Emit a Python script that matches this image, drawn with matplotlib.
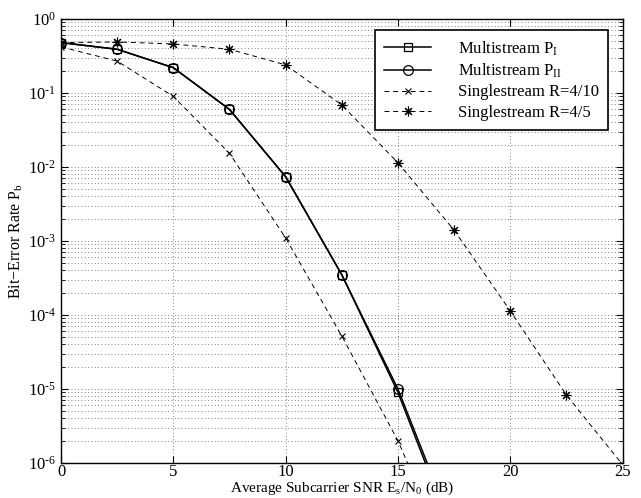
import numpy as np
import matplotlib
matplotlib.use("Agg")
import matplotlib.pyplot as plt
from matplotlib.ticker import LogLocator, NullFormatter, MultipleLocator, FuncFormatter

plt.rcParams['font.family'] = ['Liberation Serif', 'DejaVu Serif']
plt.rcParams['mathtext.fontset'] = 'custom'
plt.rcParams['mathtext.rm'] = 'Liberation Serif'
plt.rcParams['mathtext.it'] = 'Liberation Serif:italic'
plt.rcParams['mathtext.bf'] = 'Liberation Serif:bold'

# ---data--------------------------------------------------------------
snr = [0, 2.5, 5, 7.5, 10, 12.5, 15, 17.5]
multi_p1 = [0.48, 0.39, 0.22, 0.060, 0.0074, 3.5e-4, 9.0e-6, 1.0e-7]
multi_p2 = [0.48, 0.39, 0.22, 0.060, 0.0074, 3.5e-4, 1.0e-5, 1.2e-7]
single_410 = [0.42, 0.27, 0.090, 0.0153, 1.1e-3, 5.2e-5, 2.0e-6, 3.5e-8]

snr_45 = [0, 2.5, 5, 7.5, 10, 12.5, 15, 17.5, 20, 22.5, 25]
single_45 = [0.48, 0.49, 0.46, 0.39, 0.24, 0.069, 0.0114, 1.4e-3, 1.14e-4, 8.3e-6, 9.5e-7]

labels = ['Multistream P$_\\mathrm{I}$', 'Multistream P$_\\mathrm{II}$',
          'Singlestream R=4/10', 'Singlestream R=4/5']


def pow10(v, pos):
    # matlab style label, short hyphen in the exponent
    e = int(round(np.log10(v)))
    if e < 0:
        return '$10^{\\text{-}%d}$' % (-e)
    return '$10^{%d}$' % e


fig = plt.figure(figsize=(6.41, 4.98), dpi=100)
ax = fig.add_axes([0.0952, 0.0703, 0.876, 0.8915])

dash = (0, (5, 4))
ax.semilogy(snr, multi_p1, color='k', lw=1.1, marker='s', ms=6, mfc='none', mew=0.9, label=labels[0])
ax.semilogy(snr, multi_p2, color='k', lw=1.1, marker='o', ms=7, mfc='none', mew=0.9, label=labels[1])
ax.semilogy(snr, single_410, color='k', lw=0.7, ls=dash, marker='x', ms=5, mew=0.8, label=labels[2])
ax.semilogy(snr_45, single_45, color='k', lw=0.7, ls=dash, marker=(8, 2, 0), ms=7, mew=0.8, label=labels[3])

ax.set_xlim(0, 25)
ax.set_ylim(1e-6, 1)
ax.xaxis.set_major_locator(MultipleLocator(5))
ax.yaxis.set_major_locator(LogLocator(base=10, numticks=10))
ax.yaxis.set_major_formatter(FuncFormatter(pow10))
ax.yaxis.set_minor_locator(LogLocator(base=10, subs=np.arange(2, 10), numticks=20))
ax.yaxis.set_minor_formatter(NullFormatter())

ax.grid(True, which='major', axis='both', ls=(0, (1, 3)), color='0.35', lw=0.6)
ax.grid(True, which='minor', axis='y', ls=(0, (1, 3)), color='0.35', lw=0.6)

ax.tick_params(which='both', direction='in', top=True, right=True, labelsize=12)
ax.tick_params(which='major', length=5, width=0.8)
ax.tick_params(which='minor', length=3, width=0.6)
ax.tick_params(axis='x', pad=1)
for s in ax.spines.values():
    s.set_linewidth(1.0)

ax.set_xlabel('Average Subcarrier SNR E$_\\mathrm{s}$/N$_\\mathrm{0}$ (dB)', fontsize=11, labelpad=-0.5)
ax.set_ylabel('Bit\u2212Error Rate P$_\\mathrm{b}$', fontsize=11.5)
ax.yaxis.set_label_coords(-0.064, 0.5)

leg = ax.legend(loc='upper right', bbox_to_anchor=(0.974, 0.975), borderaxespad=0,
                fontsize=12, fancybox=False, edgecolor='k', framealpha=1,
                handlelength=2.8, labelspacing=0.25, borderpad=0.55, handletextpad=1.6)
leg.get_frame().set_linewidth(1.2)

fig.savefig('out.png', dpi=100)
